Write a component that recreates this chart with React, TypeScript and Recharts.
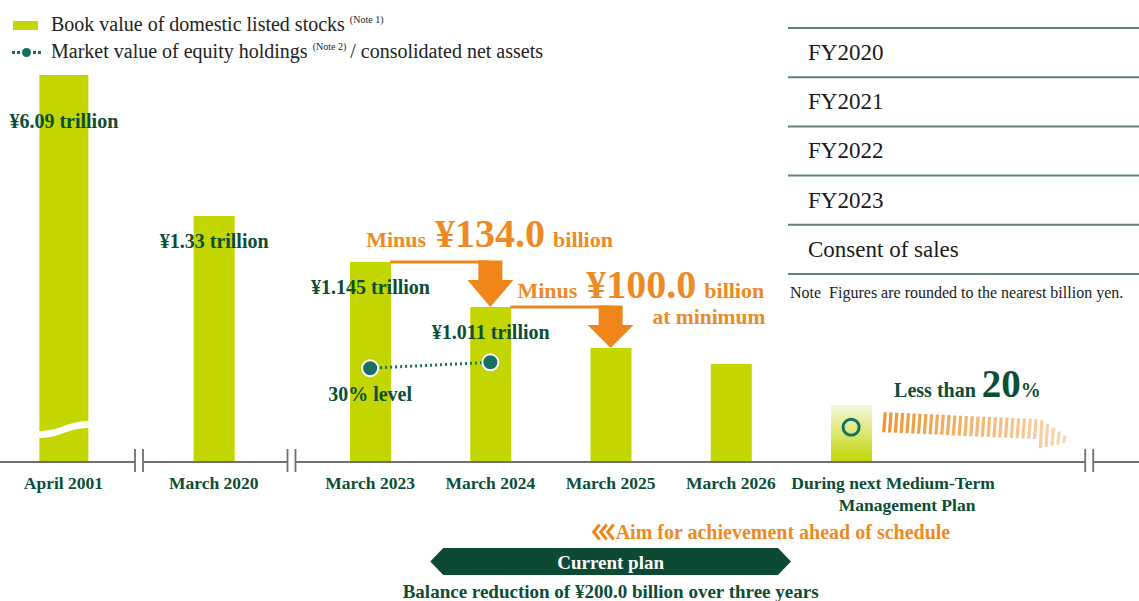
import {
  ComposedChart,
  Bar,
  Line,
  XAxis,
  YAxis,
  ReferenceLine,
  ReferenceDot,
  LabelList,
} from "recharts";

const SERIF = "'Liberation Serif', 'Times New Roman', serif";
const GREEN_TEXT = "#0b4d35";
const TEAL = "#17705e";
const BAR = "#c4d600";
const ORANGE = "#f0861a";
const ORANGE_TEXT = "#ee8a24";

const categories = [
  "April 2001",
  "March 2020",
  "March 2023",
  "March 2024",
  "March 2025",
  "March 2026",
  "During next Medium-Term Management Plan",
];
const tickLines = [
  ["April 2001"],
  ["March 2020"],
  ["March 2023"],
  ["March 2024"],
  ["March 2025"],
  ["March 2026"],
  ["During next Medium-Term", "Management Plan"],
];
// place on the broken timeline (the axis is cut between the first groups)
const timelinePos = [0, 1.25, 2.55, 3.55, 4.55, 5.55, 6.55];
// heights as drawn in the original (schematic, not to scale)
const barHeights = [387, 246, 200, 155, 114, 98, 57];
const bookValueLabels = ["¥6.09 trillion", "¥1.33 trillion", "¥1.145 trillion", "¥1.011 trillion", "", "", ""];
// market value of equity holdings / consolidated net assets (%)
const equityRatio = [null, null, 30, 31, null, null, null];
const ratioLabels = ["", "", "30% level", "", "", "", ""];
const ratioTarget = [null, null, null, null, null, null, 20];
const axisBreaks = [0.628, 1.896, 8.53];

const dropFrom = [2, 3];
const dropAmounts = ["¥134.0", "¥100.0"];
const dropNotes = ["", "at minimum"];

const tableRows = ["FY2020", "FY2021", "FY2022", "FY2023", "Consent of sales"];

const data = categories.map((name, i) => ({
  name,
  pos: timelinePos[i],
  height: barHeights[i],
  label: bookValueLabels[i],
  ratio: equityRatio[i],
  target: ratioTarget[i],
}));

const planStart = (timelinePos[2] + timelinePos[3]) / 2;
const planEnd = (timelinePos[5] + timelinePos[6]) / 2;

function renderBar(p: any) {
  const { x, y, width, height, index } = p;
  if (index === 0) {
    const bx = x - 4;
    const w = width + 8;
    const b = y + height;
    return (
      <g>
        <rect x={bx} y={y} width={w} height={height} fill={BAR} />
        <path
          d={`M${bx - 1},${b - 31} C${bx + w * 0.45},${b - 31} ${bx + w * 0.55},${b - 41} ${bx + w + 1},${b - 41}
              L${bx + w + 1},${b - 34} C${bx + w * 0.55},${b - 34} ${bx + w * 0.45},${b - 24} ${bx - 1},${b - 24} Z`}
          fill="#fff"
        />
      </g>
    );
  }
  if (index === categories.length - 1) {
    return <rect x={x} y={y} width={width} height={height} fill="url(#nextPlanFill)" />;
  }
  return <rect x={x} y={y} width={width} height={height} fill={BAR} />;
}

function renderTick(p: any) {
  const { x, y, payload } = p;
  const i = timelinePos.indexOf(payload.value);
  if (i < 0) return <g />;
  const lines = tickLines[i];
  const shifts = lines.length > 1 ? [42, 56] : [0];
  return (
    <g>
      {lines.map((t, k) => (
        <text
          key={k}
          x={x + shifts[k]}
          y={y + 19 + k * 22}
          textAnchor="middle"
          fontFamily={SERIF}
          fontWeight="bold"
          fontSize={17.5}
          fill={GREEN_TEXT}
        >
          {t}
        </text>
      ))}
    </g>
  );
}

function renderBreak(p: any) {
  const { cx, cy } = p;
  return (
    <g>
      <rect x={cx - 4} y={cy - 3} width={8} height={6} fill="#fff" />
      <line x1={cx - 4} x2={cx - 4} y1={cy - 13} y2={cy + 10} stroke="#707070" strokeWidth={1.8} />
      <line x1={cx + 4} x2={cx + 4} y1={cy - 13} y2={cy + 10} stroke="#707070" strokeWidth={1.8} />
    </g>
  );
}

function makeDrop(i: number) {
  return (p: any) => {
    const { x1, y1, x2, y2 } = p;
    const tx = i === 0 ? x1 - 4 : x1 + 27;
    const ty = i === 0 ? y1 - 15 : y1 - 9;
    return (
      <g>
        <line x1={x1 + 20} x2={x2} y1={y1} y2={y1} stroke={ORANGE} strokeWidth={3} />
        <rect x={x2 - 12} y={y1 - 1.5} width={24} height={19.5} fill={ORANGE} />
        <polygon points={`${x2 - 23},${y1 + 18} ${x2 + 23},${y1 + 18} ${x2},${y2}`} fill={ORANGE} />
        <text x={tx} y={ty} fontFamily={SERIF} fontWeight="bold" fill={ORANGE_TEXT} fontSize={22}>
          Minus
          <tspan dx={9} fontSize={40}>
            {dropAmounts[i]}
          </tspan>
          <tspan dx={8} fontSize={22}>
            billion
          </tspan>
        </text>
        {dropNotes[i] && (
          <text
            x={x1 + 275}
            y={y1 + 17}
            textAnchor="end"
            fontFamily={SERIF}
            fontWeight="bold"
            fill={ORANGE_TEXT}
            fontSize={21.5}
          >
            {dropNotes[i]}
          </text>
        )}
      </g>
    );
  };
}

function renderPlanBanner(p: any) {
  const { x1, x2, y1 } = p;
  const c = y1 + 99.5;
  const mid = (x1 + x2) / 2;
  return (
    <g>
      <g fill="none" stroke={ORANGE} strokeWidth={3}>
        {[0, 7, 14].map((d) => (
          <polyline key={d} points={`${mid - 11 + d},${c - 37} ${mid - 17 + d},${c - 29.5} ${mid - 11 + d},${c - 22}`} />
        ))}
      </g>
      <text x={mid + 5} y={c - 23} fontFamily={SERIF} fontWeight="bold" fontSize={20} fill={ORANGE_TEXT}>
        Aim for achievement ahead of schedule
      </text>
      <polygon
        points={`${x1},${c} ${x1 + 13},${c - 13.5} ${x2 - 13},${c - 13.5} ${x2},${c} ${x2 - 13},${c + 13.5} ${x1 + 13},${c + 13.5}`}
        fill="#0c4a33"
      />
      <text x={mid} y={c + 7} textAnchor="middle" fontFamily={SERIF} fontWeight="bold" fontSize={19} fill="#fff">
        Current plan
      </text>
      <text x={mid} y={c + 36} textAnchor="middle" fontFamily={SERIF} fontWeight="bold" fontSize={19} fill={GREEN_TEXT}>
        Balance reduction of ¥200.0 billion over three years
      </text>
    </g>
  );
}

function renderRatioDot(p: any) {
  const { cx, cy, value, index } = p;
  if (value == null || cy == null) return <g key={index} />;
  return <circle key={index} cx={cx} cy={cy} r={8} fill={TEAL} stroke="#fff" strokeWidth={2} />;
}

function renderRatioLabel(p: any) {
  const { x, y, index } = p;
  const t = ratioLabels[index];
  if (!t || y == null) return <g key={index} />;
  return (
    <text key={index} x={x} y={y + 33} textAnchor="middle" fontFamily={SERIF} fontWeight="bold" fontSize={20} fill={GREEN_TEXT}>
      {t}
    </text>
  );
}

function renderTargetDot(p: any) {
  const { cx, cy, value, index } = p;
  if (value == null || cy == null) return <g key={index} />;
  return <circle key={index} cx={cx} cy={cy} r={8} fill="none" stroke={TEAL} strokeWidth={3} />;
}

function renderTargetLabel(p: any) {
  const { x, y, value, index } = p;
  if (value == null || y == null) return <g key={index} />;
  const stripes = [];
  const start = x + 31;
  const headX = x + 183;
  const tipX = x + 220;
  const n = Math.floor((tipX - 5 - start) / 5.8);
  for (let k = 0; k <= n; k++) {
    const sx = start + k * 5.8;
    let top;
    let bot;
    if (sx < headX) {
      top = y - 15 + (sx - start) * 0.046;
      bot = y + 5 + (sx - start) * 0.046;
    } else {
      const u = (sx - headX) / (tipX - headX);
      top = y - 10 + u * 24;
      bot = y + 22 - u * 8;
    }
    stripes.push(
      <polygon
        key={k}
        points={`${sx + 1.5},${top} ${sx + 4.7},${top} ${sx + 3.2},${bot} ${sx},${bot}`}
        fill="#f09532"
        opacity={1 - 0.62 * (k / n)}
      />
    );
  }
  return (
    <g key={index}>
      {stripes}
      <text x={x + 43} y={y - 30} fontFamily={SERIF} fontWeight="bold" fontSize={20} fill={GREEN_TEXT}>
        Less than
        <tspan dx={6} fontSize={39}>
          {value}
        </tspan>
        <tspan fontSize={20}>%</tspan>
      </text>
    </g>
  );
}

export default function App() {
  return (
    <div style={{ position: "absolute", left: 0, top: 0, width: 1139, height: 601, overflow: "hidden", background: "#fff" }}>
      <svg width={1139} height={601} style={{ position: "absolute", left: 0, top: 0 }}>
        <defs>
          <linearGradient id="nextPlanFill" x1="0" y1="0" x2="0" y2="1">
            <stop offset="0%" stopColor="#f5f8dc" />
            <stop offset="75%" stopColor="#cfde3a" />
            <stop offset="100%" stopColor="#c4d600" />
          </linearGradient>
        </defs>
      </svg>
      <div style={{ position: "absolute", left: 0, top: 0 }}>
        <ComposedChart width={1139} height={601} data={data} margin={{ top: 0, right: 0, bottom: 0, left: 0 }}>
          <XAxis
            type="number"
            dataKey="pos"
            domain={[-0.528, 8.944]}
            allowDataOverflow
            ticks={timelinePos}
            interval={0}
            tick={renderTick}
            tickLine={false}
            axisLine={{ stroke: "#707070", strokeWidth: 2 }}
            height={139}
          />
          <YAxis yAxisId="left" hide domain={[0, 462]} allowDataOverflow />
          <YAxis yAxisId="ratio" hide orientation="right" domain={[14.1, 92.4]} allowDataOverflow />
          <Bar yAxisId="left" dataKey="height" barSize={41} shape={renderBar} isAnimationActive={false}>
            <LabelList
              dataKey="label"
              content={(p: any) => {
                const { x, y, width, value, index } = p;
                if (!value) return null;
                return (
                  <text
                    x={x + width / 2}
                    y={y + (index === 0 ? 53 : 32)}
                    textAnchor="middle"
                    fontFamily={SERIF}
                    fontWeight="bold"
                    fontSize={20}
                    fill={GREEN_TEXT}
                  >
                    {value}
                  </text>
                );
              }}
            />
          </Bar>
          {dropFrom.map((a, i) => (
            <ReferenceLine
              key={`drop-${i}`}
              yAxisId="left"
              ifOverflow="visible"
              segment={[
                { x: timelinePos[a], y: barHeights[a] },
                { x: timelinePos[a + 1], y: barHeights[a + 1] },
              ]}
              shape={makeDrop(i)}
            />
          ))}
          <ReferenceLine
            yAxisId="left"
            ifOverflow="visible"
            segment={[
              { x: planStart, y: 0 },
              { x: planEnd, y: 0 },
            ]}
            shape={renderPlanBanner}
          />
          {axisBreaks.map((b) => (
            <ReferenceDot key={b} yAxisId="left" x={b} y={0} ifOverflow="visible" shape={renderBreak} />
          ))}
          <Line
            yAxisId="ratio"
            dataKey="ratio"
            stroke={TEAL}
            strokeWidth={3}
            strokeDasharray="2 3"
            dot={renderRatioDot}
            activeDot={false}
            label={renderRatioLabel}
            isAnimationActive={false}
          />
          <Line
            yAxisId="ratio"
            dataKey="target"
            stroke="none"
            dot={renderTargetDot}
            activeDot={false}
            label={renderTargetLabel}
            isAnimationActive={false}
          />
        </ComposedChart>
      </div>
      <svg width={1139} height={601} style={{ position: "absolute", left: 0, top: 0, pointerEvents: "none" }}>
        <rect x={13} y={21} width={25} height={9} fill={BAR} />
        <rect x={12} y={51} width={3} height={3} fill={TEAL} />
        <rect x={17} y={51} width={3} height={3} fill={TEAL} />
        <circle cx={26.5} cy={52.5} r={4.5} fill={TEAL} />
        <rect x={33} y={51} width={3} height={3} fill={TEAL} />
        <rect x={38} y={51} width={3} height={3} fill={TEAL} />
        <text x={51} y={31} fontFamily={SERIF} fontSize={20} fill="#222">
          Book value of domestic listed stocks
          <tspan dx={5} dy={-8} fontSize={10}>
            (Note 1)
          </tspan>
        </text>
        <text x={51} y={58} fontFamily={SERIF} fontSize={20} fill="#222">
          Market value of equity holdings
          <tspan dx={5} dy={-8} fontSize={10}>
            (Note 2)
          </tspan>
          <tspan dx={4} dy={8}>
            / consolidated net assets
          </tspan>
        </text>
        {[0, 1, 2, 3, 4, 5].map((k) => (
          <line key={k} x1={788} x2={1139} y1={28 + k * 49.2} y2={28 + k * 49.2} stroke="#5f8279" strokeWidth={2} />
        ))}
        {tableRows.map((r, k) => (
          <text key={r} x={808} y={60 + k * 49.2} fontFamily={SERIF} fontSize={23} fill="#1a1a1a">
            {r}
          </text>
        ))}
        <text x={790} y={298} fontFamily={SERIF} fontSize={16} fill="#1a1a1a" xmlSpace="preserve">
          Note  Figures are rounded to the nearest billion yen.
        </text>
      </svg>
    </div>
  );
}
